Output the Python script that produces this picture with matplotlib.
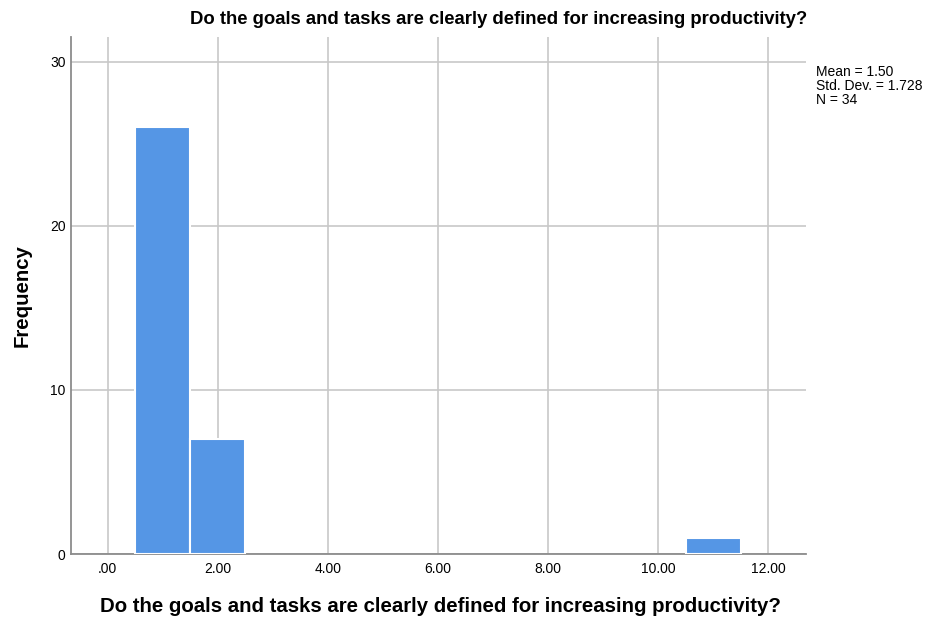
import matplotlib
matplotlib.use("Agg")
import matplotlib.pyplot as plt
import numpy as np

plt.rcParams['font.family'] = ['Liberation Sans', 'DejaVu Sans']

bin_left = [0.5, 1.5, 10.5]
bin_width = [1.0, 1.0, 1.0]
counts = [26, 7, 1]
xticks = [0, 2, 4, 6, 8, 10, 12]
xticklabels = ['.00', '2.00', '4.00', '6.00', '8.00', '10.00', '12.00']
yticks = [0, 10, 20, 30]
title = 'Do the goals and tasks are clearly defined for increasing productivity?'
stats = 'Mean = 1.50\nStd. Dev. = 1.728\nN = 34'

fig = plt.figure(figsize=(9.28, 6.24), dpi=100)
ax = fig.add_axes([71/928, 1-554/624, (806-71)/928, (554-37)/624])

ax.bar(bin_left, counts, width=bin_width, align='edge', color='#5596e5',
       edgecolor='white', linewidth=1.5, zorder=3)

ax.set_xlim(-0.67, 12.69)
ax.set_ylim(0, 31.5)
ax.set_xticks(xticks)
ax.set_xticklabels(xticklabels)
ax.set_yticks(yticks)
ax.grid(True, color='#c8c8c8', linewidth=1.2, zorder=0)
ax.tick_params(axis='x', length=0, labelsize=10, pad=6, colors='black')
ax.tick_params(axis='y', length=0, labelsize=10, pad=4, colors='black')
for s in ['top', 'right']:
    ax.spines[s].set_visible(False)
for s in ['left', 'bottom']:
    ax.spines[s].set_color('#8c8c8c')
    ax.spines[s].set_linewidth(1.3)

fig.text(440/928, 1-606/624, title, fontsize=14.7, fontweight='bold', ha='center', va='center')
fig.text(22/928, 1-296/624, 'Frequency', fontsize=14.7, fontweight='bold', ha='center', va='center', rotation=90)
fig.text(499/928, 1-20/624, title, fontsize=13.3, fontweight='bold', ha='center', va='center')
fig.text(816/928, 1-65/624, stats, fontsize=10, ha='left', va='top', linespacing=1.0)

fig.savefig('out.png', dpi=100)
